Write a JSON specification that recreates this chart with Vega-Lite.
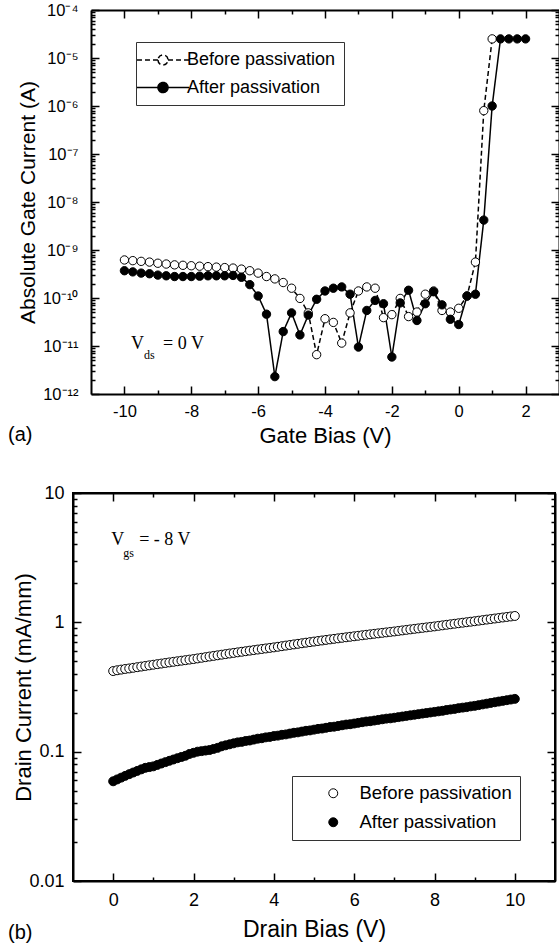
{
"$schema": "https://vega.github.io/schema/vega-lite/v6.json",
"background": "white",
"padding": {"left": 7, "top": 2, "right": 0, "bottom": 0},
"spacing": 36,
"datasets": {
"gate": [
{"v":-10,"i":6.2e-10,"s":"Before passivation"},{"v":-9.75,"i":6.0e-10,"s":"Before passivation"},{"v":-9.5,"i":5.8e-10,"s":"Before passivation"},{"v":-9.25,"i":5.6e-10,"s":"Before passivation"},{"v":-9,"i":5.3e-10,"s":"Before passivation"},{"v":-8.75,"i":5.1e-10,"s":"Before passivation"},{"v":-8.5,"i":4.9e-10,"s":"Before passivation"},{"v":-8.25,"i":4.8e-10,"s":"Before passivation"},{"v":-8,"i":4.7e-10,"s":"Before passivation"},{"v":-7.75,"i":4.6e-10,"s":"Before passivation"},{"v":-7.5,"i":4.5e-10,"s":"Before passivation"},{"v":-7.25,"i":4.4e-10,"s":"Before passivation"},{"v":-7,"i":4.3e-10,"s":"Before passivation"},{"v":-6.75,"i":4.2e-10,"s":"Before passivation"},{"v":-6.5,"i":4.0e-10,"s":"Before passivation"},{"v":-6.25,"i":3.7e-10,"s":"Before passivation"},{"v":-6,"i":3.3e-10,"s":"Before passivation"},{"v":-5.75,"i":2.8e-10,"s":"Before passivation"},{"v":-5.5,"i":2.5e-10,"s":"Before passivation"},{"v":-5.25,"i":2.1e-10,"s":"Before passivation"},{"v":-5,"i":1.6e-10,"s":"Before passivation"},{"v":-4.75,"i":9.8e-11,"s":"Before passivation"},{"v":-4.5,"i":4.9e-11,"s":"Before passivation"},{"v":-4.25,"i":6.6e-12,"s":"Before passivation"},{"v":-4,"i":3.7e-11,"s":"Before passivation"},{"v":-3.75,"i":3.1e-11,"s":"Before passivation"},{"v":-3.5,"i":1.15e-11,"s":"Before passivation"},{"v":-3.25,"i":4.9e-11,"s":"Before passivation"},{"v":-3,"i":1.4e-10,"s":"Before passivation"},{"v":-2.75,"i":1.7e-10,"s":"Before passivation"},{"v":-2.5,"i":1.6e-10,"s":"Before passivation"},{"v":-2.25,"i":3.9e-11,"s":"Before passivation"},{"v":-2,"i":4.5e-11,"s":"Before passivation"},{"v":-1.75,"i":9.8e-11,"s":"Before passivation"},{"v":-1.5,"i":4.1e-11,"s":"Before passivation"},{"v":-1.25,"i":5.1e-11,"s":"Before passivation"},{"v":-1,"i":1.2e-10,"s":"Before passivation"},{"v":-0.75,"i":1.4e-10,"s":"Before passivation"},{"v":-0.5,"i":5.5e-11,"s":"Before passivation"},{"v":-0.25,"i":5.1e-11,"s":"Before passivation"},{"v":0,"i":6.1e-11,"s":"Before passivation"},{"v":0.25,"i":1.1e-10,"s":"Before passivation"},{"v":0.5,"i":5.6e-10,"s":"Before passivation"},{"v":0.75,"i":8.0e-7,"s":"Before passivation"},{"v":1,"i":2.5e-5,"s":"Before passivation"},
{"v":-10,"i":3.7e-10,"s":"After passivation"},{"v":-9.75,"i":3.5e-10,"s":"After passivation"},{"v":-9.5,"i":3.3e-10,"s":"After passivation"},{"v":-9.25,"i":3.2e-10,"s":"After passivation"},{"v":-9,"i":3.0e-10,"s":"After passivation"},{"v":-8.75,"i":2.9e-10,"s":"After passivation"},{"v":-8.5,"i":2.8e-10,"s":"After passivation"},{"v":-8.25,"i":2.8e-10,"s":"After passivation"},{"v":-8,"i":2.8e-10,"s":"After passivation"},{"v":-7.75,"i":2.85e-10,"s":"After passivation"},{"v":-7.5,"i":2.9e-10,"s":"After passivation"},{"v":-7.25,"i":2.9e-10,"s":"After passivation"},{"v":-7,"i":2.9e-10,"s":"After passivation"},{"v":-6.75,"i":2.95e-10,"s":"After passivation"},{"v":-6.5,"i":2.7e-10,"s":"After passivation"},{"v":-6.25,"i":1.9e-10,"s":"After passivation"},{"v":-6,"i":1.1e-10,"s":"After passivation"},{"v":-5.75,"i":4.6e-11,"s":"After passivation"},{"v":-5.5,"i":2.3e-12,"s":"After passivation"},{"v":-5.25,"i":2.0e-11,"s":"After passivation"},{"v":-5,"i":4.9e-11,"s":"After passivation"},{"v":-4.75,"i":1.7e-11,"s":"After passivation"},{"v":-4.5,"i":4.4e-11,"s":"After passivation"},{"v":-4.25,"i":9.4e-11,"s":"After passivation"},{"v":-4,"i":1.4e-10,"s":"After passivation"},{"v":-3.75,"i":1.6e-10,"s":"After passivation"},{"v":-3.5,"i":1.7e-10,"s":"After passivation"},{"v":-3.25,"i":1.2e-10,"s":"After passivation"},{"v":-3,"i":9.5e-12,"s":"After passivation"},{"v":-2.75,"i":5.5e-11,"s":"After passivation"},{"v":-2.5,"i":8.9e-11,"s":"After passivation"},{"v":-2.25,"i":7.6e-11,"s":"After passivation"},{"v":-2,"i":5.9e-12,"s":"After passivation"},{"v":-1.75,"i":7.9e-11,"s":"After passivation"},{"v":-1.5,"i":1.45e-10,"s":"After passivation"},{"v":-1.25,"i":3.4e-11,"s":"After passivation"},{"v":-1,"i":7.6e-11,"s":"After passivation"},{"v":-0.75,"i":1.35e-10,"s":"After passivation"},{"v":-0.5,"i":7.2e-11,"s":"After passivation"},{"v":-0.25,"i":3.6e-11,"s":"After passivation"},{"v":0,"i":2.8e-11,"s":"After passivation"},{"v":0.25,"i":1.1e-10,"s":"After passivation"},{"v":0.5,"i":1.2e-10,"s":"After passivation"},{"v":0.75,"i":4.2e-9,"s":"After passivation"},{"v":1,"i":1.0e-6,"s":"After passivation"},{"v":1.25,"i":2.5e-5,"s":"After passivation"},{"v":1.5,"i":2.5e-5,"s":"After passivation"},{"v":1.75,"i":2.5e-5,"s":"After passivation"},{"v":2,"i":2.5e-5,"s":"After passivation"}
],
"drain": [
{"v":0,"i":0.420,"s":"Before passivation"},{"v":0.1,"i":0.426,"s":"Before passivation"},{"v":0.2,"i":0.431,"s":"Before passivation"},{"v":0.3,"i":0.436,"s":"Before passivation"},{"v":0.4,"i":0.440,"s":"Before passivation"},{"v":0.5,"i":0.445,"s":"Before passivation"},{"v":0.6,"i":0.450,"s":"Before passivation"},{"v":0.7,"i":0.455,"s":"Before passivation"},{"v":0.8,"i":0.460,"s":"Before passivation"},{"v":0.9,"i":0.465,"s":"Before passivation"},
{"v":1,"i":0.470,"s":"Before passivation"},{"v":1.1,"i":0.475,"s":"Before passivation"},{"v":1.2,"i":0.480,"s":"Before passivation"},{"v":1.3,"i":0.485,"s":"Before passivation"},{"v":1.4,"i":0.490,"s":"Before passivation"},{"v":1.5,"i":0.495,"s":"Before passivation"},{"v":1.6,"i":0.500,"s":"Before passivation"},{"v":1.7,"i":0.505,"s":"Before passivation"},{"v":1.8,"i":0.510,"s":"Before passivation"},{"v":1.9,"i":0.515,"s":"Before passivation"},
{"v":2,"i":0.520,"s":"Before passivation"},{"v":2.1,"i":0.526,"s":"Before passivation"},{"v":2.2,"i":0.532,"s":"Before passivation"},{"v":2.3,"i":0.538,"s":"Before passivation"},{"v":2.4,"i":0.544,"s":"Before passivation"},{"v":2.5,"i":0.550,"s":"Before passivation"},{"v":2.6,"i":0.556,"s":"Before passivation"},{"v":2.7,"i":0.562,"s":"Before passivation"},{"v":2.8,"i":0.568,"s":"Before passivation"},{"v":2.9,"i":0.574,"s":"Before passivation"},
{"v":3,"i":0.580,"s":"Before passivation"},{"v":3.1,"i":0.586,"s":"Before passivation"},{"v":3.2,"i":0.592,"s":"Before passivation"},{"v":3.3,"i":0.598,"s":"Before passivation"},{"v":3.4,"i":0.604,"s":"Before passivation"},{"v":3.5,"i":0.610,"s":"Before passivation"},{"v":3.6,"i":0.616,"s":"Before passivation"},{"v":3.7,"i":0.622,"s":"Before passivation"},{"v":3.8,"i":0.628,"s":"Before passivation"},{"v":3.9,"i":0.634,"s":"Before passivation"},
{"v":4,"i":0.640,"s":"Before passivation"},{"v":4.1,"i":0.647,"s":"Before passivation"},{"v":4.2,"i":0.654,"s":"Before passivation"},{"v":4.3,"i":0.661,"s":"Before passivation"},{"v":4.4,"i":0.668,"s":"Before passivation"},{"v":4.5,"i":0.675,"s":"Before passivation"},{"v":4.6,"i":0.682,"s":"Before passivation"},{"v":4.7,"i":0.689,"s":"Before passivation"},{"v":4.8,"i":0.696,"s":"Before passivation"},{"v":4.9,"i":0.703,"s":"Before passivation"},
{"v":5,"i":0.710,"s":"Before passivation"},{"v":5.1,"i":0.717,"s":"Before passivation"},{"v":5.2,"i":0.724,"s":"Before passivation"},{"v":5.3,"i":0.731,"s":"Before passivation"},{"v":5.4,"i":0.738,"s":"Before passivation"},{"v":5.5,"i":0.745,"s":"Before passivation"},{"v":5.6,"i":0.752,"s":"Before passivation"},{"v":5.7,"i":0.759,"s":"Before passivation"},{"v":5.8,"i":0.766,"s":"Before passivation"},{"v":5.9,"i":0.773,"s":"Before passivation"},
{"v":6,"i":0.780,"s":"Before passivation"},{"v":6.1,"i":0.787,"s":"Before passivation"},{"v":6.2,"i":0.794,"s":"Before passivation"},{"v":6.3,"i":0.801,"s":"Before passivation"},{"v":6.4,"i":0.808,"s":"Before passivation"},{"v":6.5,"i":0.815,"s":"Before passivation"},{"v":6.6,"i":0.822,"s":"Before passivation"},{"v":6.7,"i":0.829,"s":"Before passivation"},{"v":6.8,"i":0.836,"s":"Before passivation"},{"v":6.9,"i":0.843,"s":"Before passivation"},
{"v":7,"i":0.850,"s":"Before passivation"},{"v":7.1,"i":0.858,"s":"Before passivation"},{"v":7.2,"i":0.866,"s":"Before passivation"},{"v":7.3,"i":0.874,"s":"Before passivation"},{"v":7.4,"i":0.882,"s":"Before passivation"},{"v":7.5,"i":0.890,"s":"Before passivation"},{"v":7.6,"i":0.898,"s":"Before passivation"},{"v":7.7,"i":0.906,"s":"Before passivation"},{"v":7.8,"i":0.914,"s":"Before passivation"},{"v":7.9,"i":0.922,"s":"Before passivation"},
{"v":8,"i":0.930,"s":"Before passivation"},{"v":8.1,"i":0.939,"s":"Before passivation"},{"v":8.2,"i":0.948,"s":"Before passivation"},{"v":8.3,"i":0.957,"s":"Before passivation"},{"v":8.4,"i":0.966,"s":"Before passivation"},{"v":8.5,"i":0.975,"s":"Before passivation"},{"v":8.6,"i":0.984,"s":"Before passivation"},{"v":8.7,"i":0.993,"s":"Before passivation"},{"v":8.8,"i":1.002,"s":"Before passivation"},{"v":8.9,"i":1.011,"s":"Before passivation"},
{"v":9,"i":1.020,"s":"Before passivation"},{"v":9.1,"i":1.030,"s":"Before passivation"},{"v":9.2,"i":1.040,"s":"Before passivation"},{"v":9.3,"i":1.050,"s":"Before passivation"},{"v":9.4,"i":1.060,"s":"Before passivation"},{"v":9.5,"i":1.070,"s":"Before passivation"},{"v":9.6,"i":1.080,"s":"Before passivation"},{"v":9.7,"i":1.090,"s":"Before passivation"},{"v":9.8,"i":1.100,"s":"Before passivation"},{"v":9.9,"i":1.110,"s":"Before passivation"},{"v":10,"i":1.120,"s":"Before passivation"},
{"v":0,"i":0.059,"s":"After passivation"},{"v":0.1,"i":0.061,"s":"After passivation"},{"v":0.2,"i":0.063,"s":"After passivation"},{"v":0.3,"i":0.065,"s":"After passivation"},{"v":0.4,"i":0.067,"s":"After passivation"},{"v":0.5,"i":0.069,"s":"After passivation"},{"v":0.6,"i":0.071,"s":"After passivation"},{"v":0.7,"i":0.073,"s":"After passivation"},{"v":0.8,"i":0.075,"s":"After passivation"},{"v":0.9,"i":0.076,"s":"After passivation"},
{"v":1,"i":0.077,"s":"After passivation"},{"v":1.1,"i":0.079,"s":"After passivation"},{"v":1.2,"i":0.081,"s":"After passivation"},{"v":1.3,"i":0.083,"s":"After passivation"},{"v":1.4,"i":0.085,"s":"After passivation"},{"v":1.5,"i":0.087,"s":"After passivation"},{"v":1.6,"i":0.089,"s":"After passivation"},{"v":1.7,"i":0.091,"s":"After passivation"},{"v":1.8,"i":0.093,"s":"After passivation"},{"v":1.9,"i":0.096,"s":"After passivation"},
{"v":2,"i":0.098,"s":"After passivation"},{"v":2.1,"i":0.100,"s":"After passivation"},{"v":2.2,"i":0.101,"s":"After passivation"},{"v":2.3,"i":0.102,"s":"After passivation"},{"v":2.4,"i":0.103,"s":"After passivation"},{"v":2.5,"i":0.105,"s":"After passivation"},{"v":2.6,"i":0.107,"s":"After passivation"},{"v":2.7,"i":0.110,"s":"After passivation"},{"v":2.8,"i":0.112,"s":"After passivation"},{"v":2.9,"i":0.114,"s":"After passivation"},
{"v":3,"i":0.116,"s":"After passivation"},{"v":3.1,"i":0.118,"s":"After passivation"},{"v":3.2,"i":0.119,"s":"After passivation"},{"v":3.3,"i":0.121,"s":"After passivation"},{"v":3.4,"i":0.122,"s":"After passivation"},{"v":3.5,"i":0.124,"s":"After passivation"},{"v":3.6,"i":0.126,"s":"After passivation"},{"v":3.7,"i":0.127,"s":"After passivation"},{"v":3.8,"i":0.129,"s":"After passivation"},{"v":3.9,"i":0.130,"s":"After passivation"},
{"v":4,"i":0.132,"s":"After passivation"},{"v":4.1,"i":0.133,"s":"After passivation"},{"v":4.2,"i":0.135,"s":"After passivation"},{"v":4.3,"i":0.136,"s":"After passivation"},{"v":4.4,"i":0.138,"s":"After passivation"},{"v":4.5,"i":0.140,"s":"After passivation"},{"v":4.6,"i":0.141,"s":"After passivation"},{"v":4.7,"i":0.143,"s":"After passivation"},{"v":4.8,"i":0.145,"s":"After passivation"},{"v":4.9,"i":0.146,"s":"After passivation"},
{"v":5,"i":0.148,"s":"After passivation"},{"v":5.1,"i":0.150,"s":"After passivation"},{"v":5.2,"i":0.151,"s":"After passivation"},{"v":5.3,"i":0.153,"s":"After passivation"},{"v":5.4,"i":0.155,"s":"After passivation"},{"v":5.5,"i":0.156,"s":"After passivation"},{"v":5.6,"i":0.158,"s":"After passivation"},{"v":5.7,"i":0.160,"s":"After passivation"},{"v":5.8,"i":0.162,"s":"After passivation"},{"v":5.9,"i":0.163,"s":"After passivation"},
{"v":6,"i":0.165,"s":"After passivation"},{"v":6.1,"i":0.167,"s":"After passivation"},{"v":6.2,"i":0.169,"s":"After passivation"},{"v":6.3,"i":0.171,"s":"After passivation"},{"v":6.4,"i":0.172,"s":"After passivation"},{"v":6.5,"i":0.174,"s":"After passivation"},{"v":6.6,"i":0.176,"s":"After passivation"},{"v":6.7,"i":0.178,"s":"After passivation"},{"v":6.8,"i":0.180,"s":"After passivation"},{"v":6.9,"i":0.181,"s":"After passivation"},
{"v":7,"i":0.183,"s":"After passivation"},{"v":7.1,"i":0.185,"s":"After passivation"},{"v":7.2,"i":0.187,"s":"After passivation"},{"v":7.3,"i":0.189,"s":"After passivation"},{"v":7.4,"i":0.191,"s":"After passivation"},{"v":7.5,"i":0.193,"s":"After passivation"},{"v":7.6,"i":0.195,"s":"After passivation"},{"v":7.7,"i":0.197,"s":"After passivation"},{"v":7.8,"i":0.199,"s":"After passivation"},{"v":7.9,"i":0.201,"s":"After passivation"},
{"v":8,"i":0.203,"s":"After passivation"},{"v":8.1,"i":0.205,"s":"After passivation"},{"v":8.2,"i":0.207,"s":"After passivation"},{"v":8.3,"i":0.210,"s":"After passivation"},{"v":8.4,"i":0.212,"s":"After passivation"},{"v":8.5,"i":0.214,"s":"After passivation"},{"v":8.6,"i":0.217,"s":"After passivation"},{"v":8.7,"i":0.219,"s":"After passivation"},{"v":8.8,"i":0.221,"s":"After passivation"},{"v":8.9,"i":0.224,"s":"After passivation"},
{"v":9,"i":0.226,"s":"After passivation"},{"v":9.1,"i":0.229,"s":"After passivation"},{"v":9.2,"i":0.232,"s":"After passivation"},{"v":9.3,"i":0.235,"s":"After passivation"},{"v":9.4,"i":0.238,"s":"After passivation"},{"v":9.5,"i":0.241,"s":"After passivation"},{"v":9.6,"i":0.244,"s":"After passivation"},{"v":9.7,"i":0.247,"s":"After passivation"},{"v":9.8,"i":0.250,"s":"After passivation"},{"v":9.9,"i":0.253,"s":"After passivation"},{"v":10,"i":0.256,"s":"After passivation"}
]
},
"vconcat": [
{
"width": 486, "height": 384,
"view": {"stroke": null},
"title": {"text": "(a)", "orient": "bottom", "anchor": "start", "frame": "group", "dx": -65, "dy": -22, "offset": 0, "fontSize": 20, "fontWeight": "normal", "font": "Liberation Sans", "color": "black"},
"data": {"name": "gate"},
"layer": [
{"mark": {"type": "line", "color": "black", "strokeWidth": 1.5},
 "encoding": {
  "x": {"field": "v", "type": "quantitative", "scale": {"domain": [-11, 3], "range": [18, 486], "nice": false, "zero": false},
    "axis": {"orient": "bottom", "values": [-10,-9,-8,-7,-6,-5,-4,-3,-2,-1,0,1,2], "labelExpr": "datum.value % 2 == 0 ? '' + datum.value : ''",
      "tickSize": {"condition": {"test": "datum.value % 2 == 0", "value": -8}, "value": -4},
      "labelPadding": 17, "labelFontSize": 16.5, "title": "Gate Bias (V)", "titleFontSize": 22, "titlePadding": 2, "titleX": 252}},
  "y": {"field": "i", "type": "quantitative", "scale": {"type": "log", "domain": [1e-12, 1e-4], "nice": false},
    "axis": {"orient": "left", "offset": -18, "values": [1e-12,2e-12,3e-12,4e-12,5e-12,6e-12,7e-12,8e-12,9e-12,1e-11,2e-11,3e-11,4e-11,5e-11,6e-11,7e-11,8e-11,9e-11,1e-10,2e-10,3e-10,4e-10,5e-10,6e-10,7e-10,8e-10,9e-10,1e-9,2e-9,3e-9,4e-9,5e-9,6e-9,7e-9,8e-9,9e-9,1e-8,2e-8,3e-8,4e-8,5e-8,6e-8,7e-8,8e-8,9e-8,1e-7,2e-7,3e-7,4e-7,5e-7,6e-7,7e-7,8e-7,9e-7,1e-6,2e-6,3e-6,4e-6,5e-6,6e-6,7e-6,8e-6,9e-6,1e-5,2e-5,3e-5,4e-5,5e-5,6e-5,7e-5,8e-5,9e-5,1e-4],
      "labelExpr": "abs(log(datum.value)/LN10 - round(log(datum.value)/LN10)) < 0.01 ? '10⁻' + (round(-log(datum.value)/LN10) >= 10 ? '¹' + substring('⁰¹²³⁴⁵⁶⁷⁸⁹', round(-log(datum.value)/LN10) - 10, round(-log(datum.value)/LN10) - 9) : substring('⁰¹²³⁴⁵⁶⁷⁸⁹', round(-log(datum.value)/LN10), round(-log(datum.value)/LN10) + 1)) : ''",
      "tickSize": {"condition": {"test": "abs(log(datum.value)/LN10 - round(log(datum.value)/LN10)) < 0.01", "value": -8}, "value": -4},
      "labelPadding": 21, "labelFontSize": 16.5, "title": "Absolute Gate Current (A)", "titleFontSize": 21, "titlePadding": 4}},
  "strokeDash": {"field": "s", "type": "nominal", "scale": {"domain": ["Before passivation", "After passivation"], "range": [[5, 3], [1, 0]]},
    "legend": {"orient": "none", "legendX": 63, "legendY": 32, "title": null,
      "symbolType": "M-2.89,0H-0.56M0.56,0H2.89M-0.56,0A0.56,0.56 0 1,0 0.56,0A0.56,0.56 0 1,0 -0.56,0",
      "symbolSize": 324, "symbolStrokeColor": "black", "symbolStrokeWidth": 1.5,
      "labelFontSize": 18, "labelFont": "Liberation Sans", "labelColor": "black", "labelLimit": 400,
      "strokeColor": "#333333", "padding": 8, "symbolOffset": 9, "labelOffset": 14, "rowPadding": 8.5,
      "encode": {"symbols": {"update": {"fill": {"signal": "datum.value == 'After passivation' ? 'black' : 'white'"}, "stroke": {"value": "black"}, "strokeWidth": {"value": 1.5}, "opacity": {"value": 1}}}}}}
 }},
{"mark": {"type": "point", "shape": "circle", "filled": true, "size": 70, "stroke": "black", "strokeWidth": 1, "opacity": 1},
 "encoding": {
  "x": {"field": "v", "type": "quantitative",
    "axis": {"orient": "top", "values": [-10,-9,-8,-7,-6,-5,-4,-3,-2,-1,0,1,2], "labels": false, "title": null,
      "tickSize": {"condition": {"test": "datum.value % 2 == 0", "value": -8}, "value": -4}}},
  "y": {"field": "i", "type": "quantitative",
    "axis": {"orient": "right", "values": [1e-12,2e-12,3e-12,4e-12,5e-12,6e-12,7e-12,8e-12,9e-12,1e-11,2e-11,3e-11,4e-11,5e-11,6e-11,7e-11,8e-11,9e-11,1e-10,2e-10,3e-10,4e-10,5e-10,6e-10,7e-10,8e-10,9e-10,1e-9,2e-9,3e-9,4e-9,5e-9,6e-9,7e-9,8e-9,9e-9,1e-8,2e-8,3e-8,4e-8,5e-8,6e-8,7e-8,8e-8,9e-8,1e-7,2e-7,3e-7,4e-7,5e-7,6e-7,7e-7,8e-7,9e-7,1e-6,2e-6,3e-6,4e-6,5e-6,6e-6,7e-6,8e-6,9e-6,1e-5,2e-5,3e-5,4e-5,5e-5,6e-5,7e-5,8e-5,9e-5,1e-4],
      "labels": false, "title": null,
      "tickSize": {"condition": {"test": "abs(log(datum.value)/LN10 - round(log(datum.value)/LN10)) < 0.01", "value": -8}, "value": -4}}},
  "fill": {"field": "s", "type": "nominal", "scale": {"domain": ["Before passivation", "After passivation"], "range": ["white", "black"]}, "legend": null}
 }},
{"data": {"values": [{}]},
 "mark": {"type": "text", "text": "V", "font": "Liberation Serif", "fontSize": 18, "align": "left", "baseline": "middle", "color": "black"},
 "encoding": {"x": {"datum": -9.8, "type": "quantitative", "axis": null}, "y": {"datum": 1.1e-11, "type": "quantitative", "scale": {"type": "log"}, "axis": null}}},
{"data": {"values": [{}]},
 "mark": {"type": "text", "text": "ds", "font": "Liberation Serif", "fontSize": 12, "align": "left", "baseline": "middle", "dx": 13, "dy": 11, "color": "black"},
 "encoding": {"x": {"datum": -9.8, "type": "quantitative", "axis": null}, "y": {"datum": 1.1e-11, "type": "quantitative", "scale": {"type": "log"}, "axis": null}}},
{"data": {"values": [{}]},
 "mark": {"type": "text", "text": "= 0 V", "font": "Liberation Serif", "fontSize": 18, "align": "left", "baseline": "middle", "dx": 32, "color": "black"},
 "encoding": {"x": {"datum": -9.8, "type": "quantitative", "axis": null}, "y": {"datum": 1.1e-11, "type": "quantitative", "scale": {"type": "log"}, "axis": null}}}
],
"resolve": {"axis": {"x": "independent", "y": "independent"}}
},
{
"width": 482, "height": 388,
"title": {"text": "(b)", "orient": "bottom", "anchor": "start", "frame": "group", "dx": -65, "dy": -18, "offset": 0, "fontSize": 20, "fontWeight": "normal", "font": "Liberation Sans", "color": "black"},
"data": {"name": "drain"},
"layer": [
{"mark": {"type": "point", "shape": "circle", "filled": true, "size": 80, "stroke": "black", "strokeWidth": 1, "opacity": 1},
 "encoding": {
  "x": {"field": "v", "type": "quantitative", "scale": {"domain": [-1, 11], "nice": false, "zero": false},
    "axis": {"orient": "bottom", "values": [0,1,2,3,4,5,6,7,8,9,10], "labelExpr": "datum.value % 2 == 0 ? '' + datum.value : ''",
      "tickSize": {"condition": {"test": "datum.value % 2 == 0", "value": -8}, "value": -4},
      "labelPadding": 18, "labelFontSize": 18, "title": "Drain Bias (V)", "titleFontSize": 23, "titlePadding": 5}},
  "y": {"field": "i", "type": "quantitative", "scale": {"type": "log", "domain": [0.01, 10], "nice": false},
    "axis": {"orient": "left", "values": [0.01,0.02,0.03,0.04,0.05,0.06,0.07,0.08,0.09,0.1,0.2,0.3,0.4,0.5,0.6,0.7,0.8,0.9,1,2,3,4,5,6,7,8,9,10],
      "labelExpr": "abs(log(datum.value)/LN10 - round(log(datum.value)/LN10)) < 0.01 ? '' + datum.value : ''",
      "tickSize": {"condition": {"test": "abs(log(datum.value)/LN10 - round(log(datum.value)/LN10)) < 0.01", "value": -8}, "value": -4},
      "labelPadding": 17, "labelFontSize": 18, "title": "Drain Current (mA/mm)", "titleFontSize": 22, "titlePadding": -7}},
  "fill": {"field": "s", "type": "nominal", "scale": {"domain": ["Before passivation", "After passivation"], "range": ["white", "black"]},
    "legend": {"orient": "none", "legendX": 219, "legendY": 283, "title": null, "symbolType": "circle", "symbolSize": 80,
      "symbolStrokeColor": "black", "symbolStrokeWidth": 1, "labelFontSize": 18.5, "labelFont": "Liberation Sans", "labelColor": "black", "labelLimit": 400,
      "strokeColor": "#333333", "padding": 8, "symbolOffset": 24, "labelOffset": 17, "rowPadding": 10}}
 }},
{"data": {"values": [{}]},
 "mark": {"type": "text", "text": "V", "font": "Liberation Serif", "fontSize": 18, "align": "left", "baseline": "middle", "color": "black"},
 "encoding": {
  "x": {"datum": -0.05, "type": "quantitative",
    "axis": {"orient": "top", "values": [0,1,2,3,4,5,6,7,8,9,10], "labels": false, "title": null,
      "tickSize": {"condition": {"test": "datum.value % 2 == 0", "value": -8}, "value": -4}}},
  "y": {"datum": 4.3, "type": "quantitative", "scale": {"type": "log"},
    "axis": {"orient": "right", "values": [0.01,0.02,0.03,0.04,0.05,0.06,0.07,0.08,0.09,0.1,0.2,0.3,0.4,0.5,0.6,0.7,0.8,0.9,1,2,3,4,5,6,7,8,9,10], "labels": false, "title": null,
      "tickSize": {"condition": {"test": "abs(log(datum.value)/LN10 - round(log(datum.value)/LN10)) < 0.01", "value": -8}, "value": -4}}}}},
{"data": {"values": [{}]},
 "mark": {"type": "text", "text": "gs", "font": "Liberation Serif", "fontSize": 12, "align": "left", "baseline": "middle", "dx": 12, "dy": 13, "color": "black"},
 "encoding": {"x": {"datum": -0.05, "type": "quantitative", "axis": null}, "y": {"datum": 4.3, "type": "quantitative", "scale": {"type": "log"}, "axis": null}}},
{"data": {"values": [{}]},
 "mark": {"type": "text", "text": "= - 8 V", "font": "Liberation Serif", "fontSize": 18, "align": "left", "baseline": "middle", "dx": 28, "color": "black"},
 "encoding": {"x": {"datum": -0.05, "type": "quantitative", "axis": null}, "y": {"datum": 4.3, "type": "quantitative", "scale": {"type": "log"}, "axis": null}}}
],
"resolve": {"axis": {"x": "independent", "y": "independent"}}
}
],
"resolve": {"scale": {"x": "independent", "y": "independent", "fill": "independent", "strokeDash": "independent"}, "legend": {"fill": "independent", "strokeDash": "independent"}},
"config": {
 "font": "Liberation Sans",
 "view": {"stroke": "black", "strokeWidth": 2},
 "axis": {"grid": false, "domainColor": "black", "domainWidth": 2, "tickColor": "black", "tickWidth": 1.5, "labelColor": "black", "titleColor": "black", "labelFont": "Liberation Sans", "titleFont": "Liberation Sans", "titleFontWeight": "normal", "labelOverlap": false, "labelFlush": false, "labelBound": false},
 "legend": {"labelFont": "Liberation Sans", "labelColor": "black"},
 "title": {"font": "Liberation Sans", "fontWeight": "normal", "color": "black"}
}
}
